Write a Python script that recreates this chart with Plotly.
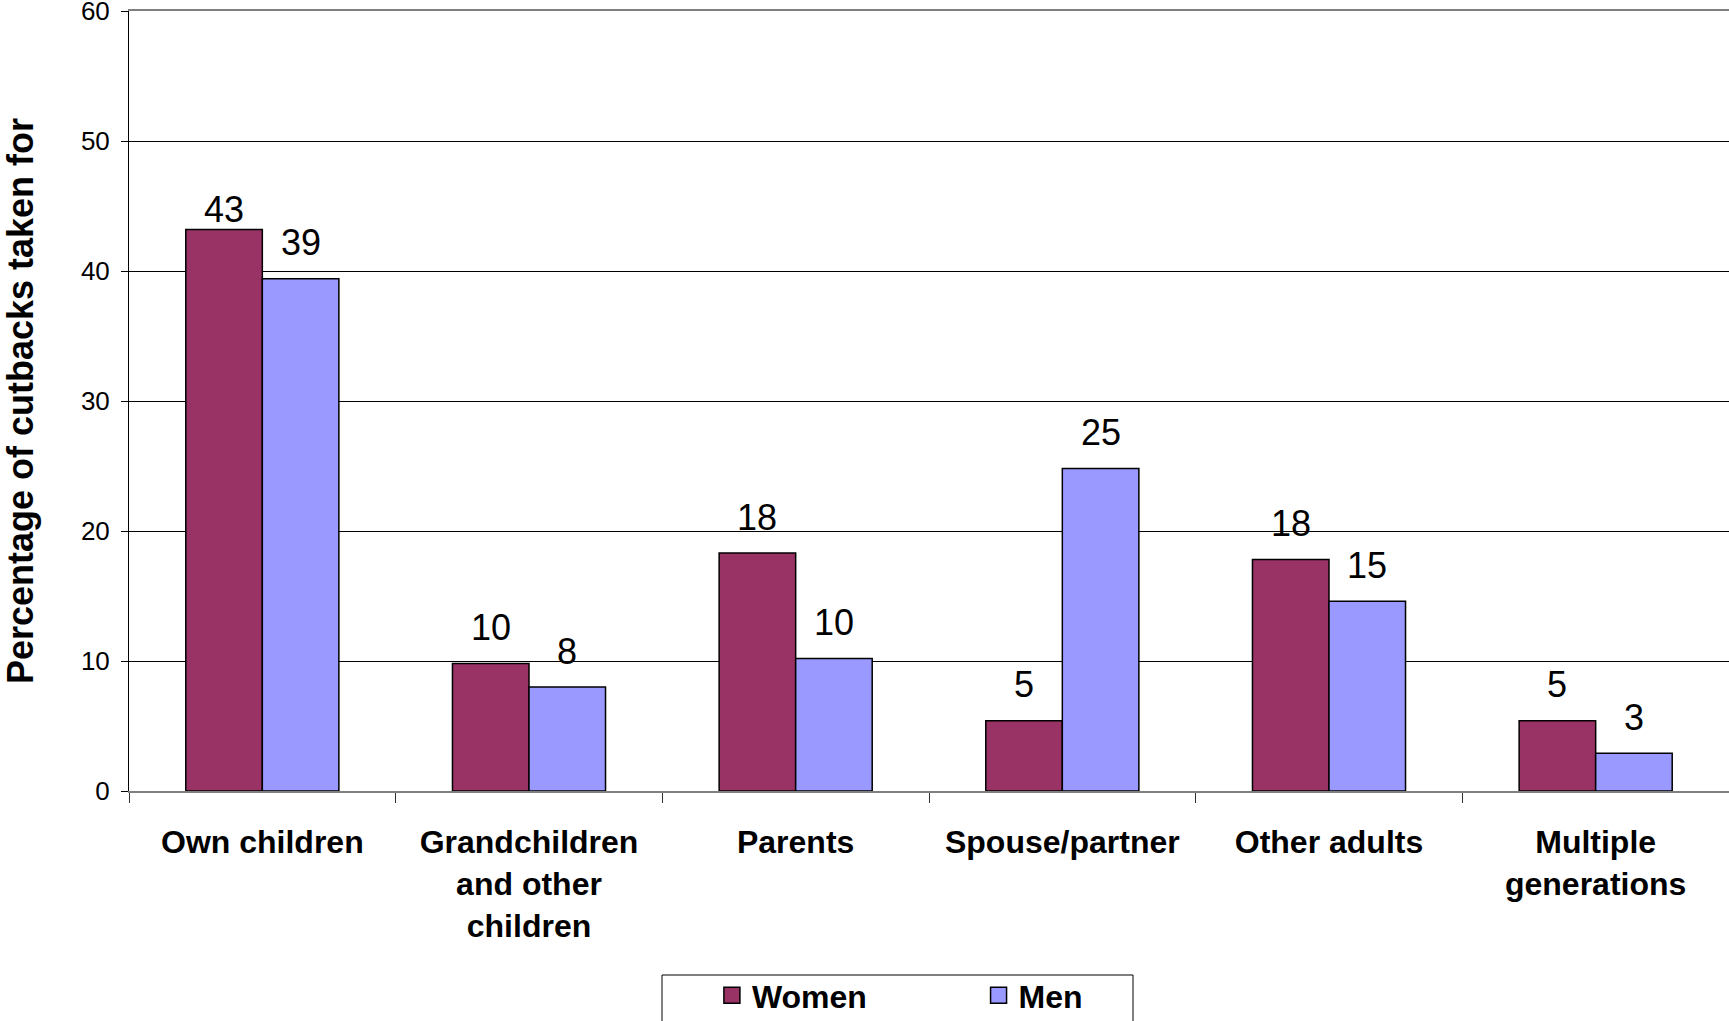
import plotly.graph_objects as go

categories = ["Own children", "Grandchildren<br>and other<br>children", "Parents",
              "Spouse/partner", "Other adults", "Multiple<br>generations"]
women = [43.2, 9.8, 18.3, 5.4, 17.8, 5.4]
men = [39.4, 8.0, 10.2, 24.8, 14.6, 2.9]
y_ticks = [0, 10, 20, 30, 40, 50, 60]

WOMEN_COLOR = "#993366"
MEN_COLOR = "#9999FF"
FONT = "Liberation Sans, Arial, sans-serif"

BARGAP = 0.426
NB = "&nbsp;"

# plot-area geometry (pixels) used to place the legend frame
PLOT_L, PLOT_W, PLOT_B, PLOT_H = 129, 1600, 791, 780
LEG_L, LEG_R, LEG_T = 662, 1133, 975

fig = go.Figure()
fig.add_trace(go.Bar(x=categories, y=women, name="Women", marker_color=WOMEN_COLOR,
                     marker_line_color="black", marker_line_width=1.5, showlegend=False))
fig.add_trace(go.Bar(x=categories, y=men, name="Men", marker_color=MEN_COLOR,
                     marker_line_color="black", marker_line_width=1.5, showlegend=False))

# legend entries (padded names to reproduce the wide legend box)
for name, col, pad in [("Women", WOMEN_COLOR, 12), ("Men", MEN_COLOR, 5)]:
    fig.add_trace(go.Scatter(x=[None], y=[None], mode="markers", name=name + NB * pad,
                             marker=dict(symbol="square", size=16, color=col,
                                         line=dict(color="black", width=1.5))))

# value labels
half = (1 - BARGAP) / 4
for series, off in [(women, -half), (men, half)]:
    for i, v in enumerate(series):
        shift = 36
        if series is women and i == 0:
            shift = 20
        fig.add_annotation(x=i + off, y=v, text=f"{round(v)}", showarrow=False,
                           yshift=shift, yanchor="middle",
                           font=dict(family=FONT, size=36, color="black"))

# legend frame
fig.add_shape(type="rect", xref="paper", yref="paper",
              x0=(LEG_L - PLOT_L) / PLOT_W, x1=(LEG_R - PLOT_L) / PLOT_W,
              y0=-(LEG_T - PLOT_B) / PLOT_H, y1=-(LEG_T + 80 - PLOT_B) / PLOT_H,
              line=dict(color="black", width=1), fillcolor="rgba(0,0,0,0)")

fig.update_layout(
    width=1729, height=1021,
    margin=dict(l=PLOT_L, r=0, t=11, b=230, autoexpand=False),
    paper_bgcolor="white", plot_bgcolor="white",
    barmode="group", bargap=BARGAP, bargroupgap=0,
    font=dict(family=FONT, color="black"),
    legend=dict(orientation="h", x=(LEG_L + 1 - PLOT_L) / PLOT_W,
                y=-(LEG_T - 7 - PLOT_B) / PLOT_H,
                xanchor="left", yanchor="top",
                borderwidth=0, bgcolor="rgba(0,0,0,0)",
                font=dict(family=FONT, size=32, color="black", weight="bold"),
                title=dict(text=NB * 5, side="left", font=dict(size=28))),
)

fig.update_xaxes(
    type="category", tickson="boundaries", ticks="outside", ticklen=10,
    tickcolor="#333333", tickwidth=1,
    showline=True, linecolor="#808080", linewidth=2, mirror=True,
    tickfont=dict(family=FONT, size=32, color="black", weight="bold"),
    ticklabelstandoff=22, showgrid=False,
)
fig.update_yaxes(
    range=[0, 60], tickvals=y_ticks, ticks="outside", ticklen=7, tickcolor="black",
    showline=True, linecolor="black", linewidth=1,
    showgrid=True, gridcolor="black", gridwidth=1, zeroline=False,
    tickfont=dict(family=FONT, size=26, color="black"),
    ticklabelstandoff=6, ticklabeloverflow="allow",
    title=dict(text="Percentage of cutbacks taken for", standoff=46,
               font=dict(family=FONT, size=36, color="black", weight="bold")),
)

fig.write_html("out.html", config={"displayModeBar": False},
               post_script="document.body.style.margin='0px';")
